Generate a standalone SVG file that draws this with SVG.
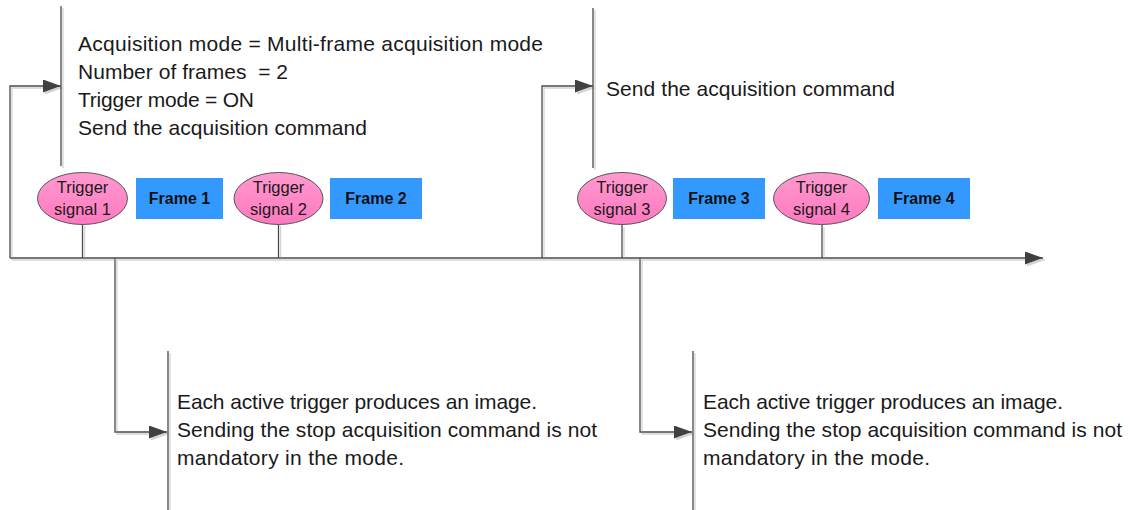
<svg xmlns="http://www.w3.org/2000/svg" width="1130" height="510" viewBox="0 0 1130 510">
<defs>
<style>
.ln{fill:none;stroke:#4a4a4a;stroke-width:1.3}
.txt{font-family:"Liberation Sans",Arial,sans-serif;font-size:21px;fill:#1a1a1a;white-space:pre}
.trg{fill:url(#pink);stroke:#555;stroke-width:1}
.tl{font-family:"Liberation Sans",Arial,sans-serif;font-size:16.5px;fill:#1a1a1a;text-anchor:middle}
.frm{fill:#3399ff}
.fl{font-family:"Liberation Sans",Arial,sans-serif;font-size:16px;font-weight:bold;fill:#111;text-anchor:middle}
</style>
<linearGradient id="pink" x1="0" y1="0" x2="0" y2="1">
<stop offset="0" stop-color="#ff9ad0"/>
<stop offset="1" stop-color="#ff78bf"/>
</linearGradient>
<marker id="arr" markerWidth="18" markerHeight="13" refX="18" refY="6.5" orient="auto" markerUnits="userSpaceOnUse">
<path d="M0,0 L18,6.5 L0,13 Z" fill="#404040"/>
</marker>
<filter id="sh" filterUnits="userSpaceOnUse" x="0" y="0" width="1130" height="510">
<feOffset in="SourceAlpha" dx="2" dy="2" result="o"/>
<feFlood flood-color="#d4d4d4"/>
<feComposite in2="o" operator="in" result="s"/>
<feMerge><feMergeNode in="s"/><feMergeNode in="SourceGraphic"/></feMerge>
</filter>
</defs>
<rect width="1130" height="510" fill="#fff"/>

<g id="connectors" filter="url(#sh)">
<path class="ln" d="M10,258 L1043,258" marker-end="url(#arr)"/>
<path class="ln" d="M10,258 L10,86 L61,86" marker-end="url(#arr)"/>
<path class="ln" d="M542,258 L542,86 L593,86" marker-end="url(#arr)"/>
<path class="ln" d="M115,258 L115,432 L167,432" marker-end="url(#arr)"/>
<path class="ln" d="M640,258 L640,432 L692,432" marker-end="url(#arr)"/>
<path class="ln" d="M82.5,224 L82.5,258"/>
<path class="ln" d="M278.5,224 L278.5,258"/>
<path class="ln" d="M622,225 L622,258"/>
<path class="ln" d="M822,225 L822,258"/>
</g>

<g id="setup">
<path class="ln" d="M61,6 L61,166" filter="url(#sh)"/>
<text class="txt" x="78" y="51" textLength="465" lengthAdjust="spacing">Acquisition mode = Multi-frame acquisition mode</text>
<text class="txt" x="78" y="79" textLength="210" lengthAdjust="spacing">Number of frames  = 2</text>
<text class="txt" x="78" y="107" textLength="176" lengthAdjust="spacing">Trigger mode = ON</text>
<text class="txt" x="78" y="135" textLength="289" lengthAdjust="spacing">Send the acquisition command</text>
</g>

<g id="send2">
<path class="ln" d="M593,8 L593,168" filter="url(#sh)"/>
<text class="txt" x="606" y="96" textLength="289" lengthAdjust="spacing">Send the acquisition command</text>
</g>

<g id="note1">
<path class="ln" d="M168,351 L168,510" filter="url(#sh)"/>
<text class="txt" x="177" y="409" textLength="360" lengthAdjust="spacing">Each active trigger produces an image.</text>
<text class="txt" x="177" y="437" textLength="420" lengthAdjust="spacing">Sending the stop acquisition command is not</text>
<text class="txt" x="177" y="465" textLength="227" lengthAdjust="spacing">mandatory in the mode.</text>
</g>

<g id="note2">
<path class="ln" d="M693,351 L693,510" filter="url(#sh)"/>
<text class="txt" x="703" y="409" textLength="360" lengthAdjust="spacing">Each active trigger produces an image.</text>
<text class="txt" x="703" y="437" textLength="419" lengthAdjust="spacing">Sending the stop acquisition command is not</text>
<text class="txt" x="703" y="465" textLength="227" lengthAdjust="spacing">mandatory in the mode.</text>
</g>

<g id="trigger1">
<ellipse class="trg" cx="82.5" cy="198.5" rx="45" ry="26"/>
<text class="tl" x="82.5" y="193">Trigger</text>
<text class="tl" x="82.5" y="215">signal 1</text>
</g>
<g id="frame1">
<rect class="frm" x="136" y="178" width="87" height="41"/>
<text class="fl" x="179.5" y="204">Frame 1</text>
</g>

<g id="trigger2">
<ellipse class="trg" cx="278.5" cy="198.5" rx="44.5" ry="26"/>
<text class="tl" x="278.5" y="193">Trigger</text>
<text class="tl" x="278.5" y="215">signal 2</text>
</g>
<g id="frame2">
<rect class="frm" x="330" y="178" width="92" height="41"/>
<text class="fl" x="376" y="204">Frame 2</text>
</g>

<g id="trigger3">
<ellipse class="trg" cx="622" cy="198.5" rx="44.5" ry="26"/>
<text class="tl" x="622" y="193">Trigger</text>
<text class="tl" x="622" y="215">signal 3</text>
</g>
<g id="frame3">
<rect class="frm" x="673" y="178" width="92" height="41"/>
<text class="fl" x="719" y="204">Frame 3</text>
</g>

<g id="trigger4">
<ellipse class="trg" cx="821.5" cy="198.5" rx="48" ry="26"/>
<text class="tl" x="821.5" y="193">Trigger</text>
<text class="tl" x="821.5" y="215">signal 4</text>
</g>
<g id="frame4">
<rect class="frm" x="878" y="178" width="92" height="41"/>
<text class="fl" x="924" y="204">Frame 4</text>
</g>
</svg>
